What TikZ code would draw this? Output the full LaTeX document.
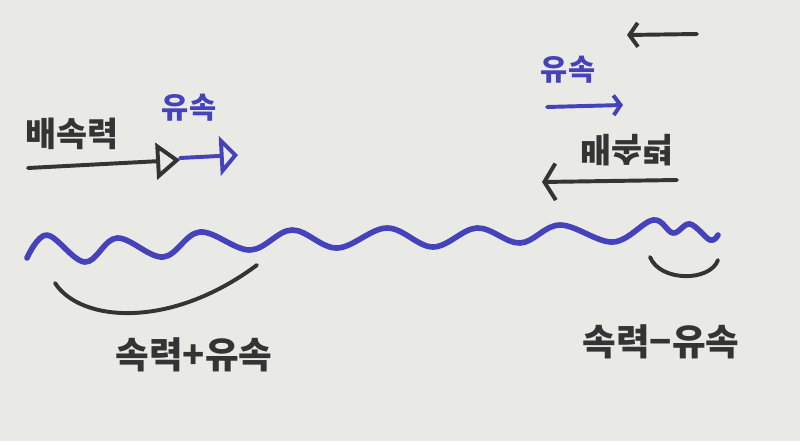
\documentclass[tikz,border=0pt]{standalone}
\usepackage{fontspec}
\setmainfont{Noto Sans CJK KR}
\usetikzlibrary{arrows.meta}
\definecolor{paper}{RGB}{233,233,230}
\definecolor{pen}{RGB}{52,52,52}
\definecolor{bluepen}{RGB}{70,66,188}

\begin{document}
\begin{tikzpicture}[x=0.025cm, y=0.025cm]
              \tikzstyle{every node}+=[inner sep=0pt]
              \tikzstyle{hand}=[font=\fontsize{24}{28}\selectfont\bfseries, text=pen]
              \tikzstyle{bighand}=[font=\fontsize{26}{30}\selectfont\bfseries, text=pen]
              \tikzstyle{bluehand}=[font=\fontsize{21}{25}\selectfont\bfseries, text=bluepen]
              \tikzstyle{penline}=[pen, line width=2.8pt, line cap=round]
              \tikzstyle{blueline}=[bluepen, line width=2.8pt, line cap=round]
              \fill [paper] (0,0) rectangle (800,-441);
              \useasboundingbox (0,0) rectangle (800,-441);
              % left side: going with the current
              \node [hand] (boatL) at (72,-134) {배속력};
              \node [bluehand] (curL) at (189,-108) {유속};
              \coordinate (boatLa) at (28,-168);
              \coordinate (boatLb) at (180,-160);
              \coordinate (curLa) at (180,-158);
              \coordinate (curLb) at (238,-155);
              \draw [penline, -{Triangle[open, length=17pt, width=26pt]}] (boatLa) -- (boatLb);
              \draw [blueline, -{Triangle[open, length=13pt, width=28pt]}] (curLa) -- (curLb);
              % right side: against the current
              \coordinate (topRa) at (697,-34);
              \coordinate (topRb) at (627,-35);
              \draw [penline, -{Straight Barb[length=6pt, width=17pt]}] (topRa) -- (topRb);
              \node [bluehand] (curR) at (568,-70) {유속};
              \coordinate (curRa) at (547,-107);
              \coordinate (curRb) at (623,-105);
              \draw [blueline, -{Straight Barb[length=5pt, width=14pt]}] (curRa) -- (curRb);
              \node [hand, yscale=-1] (boatR) at (627,-150) {배속력};
              \coordinate (boatRa) at (677,-180);
              \coordinate (boatRb) at (542,-182);
              \draw [penline, -{Straight Barb[length=8pt, width=26pt]}] (boatRa) -- (boatRb);
              % river
              \draw [bluepen, line width=4pt, line cap=round, line join=round] plot [smooth, tension=0.6] coordinates {
                (27,-258) (47,-235) (85,-262) (117,-238) (163,-257) (200,-232)
                (250,-250) (292,-230) (337,-248) (387,-228) (433,-247) (477,-228)
                (520,-243) (560,-225) (613,-242) (653,-220) (673,-233) (690,-224)
                (710,-240) (718,-235)};
              % braces and sums
              \coordinate (arcLa) at (55,-283);
              \coordinate (arcLb) at (257,-265);
              \draw [penline] (arcLa) .. controls (80,-322) and (170,-330) .. (arcLb);
              \coordinate (arcRa) at (650,-257);
              \coordinate (arcRb) at (718,-260);
              \draw [penline] (arcRa) .. controls (660,-282) and (710,-282) .. (arcRb);
              \node [bighand] (sumL) at (194,-355) {속력+유속};
              \node [bighand] (diffR) at (661,-342) {속력−유속};
            \end{tikzpicture}
\end{document}
